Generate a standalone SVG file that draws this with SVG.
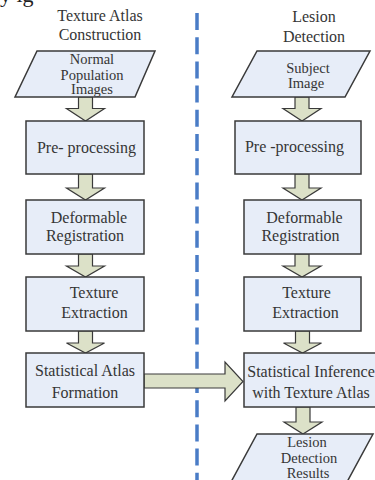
<svg xmlns="http://www.w3.org/2000/svg" width="375" height="480" viewBox="0 0 375 480">
<style>
text{font-family:"Liberation Serif","Times New Roman",serif;font-size:16px;fill:#353535;text-anchor:middle}
.box{fill:#E7EDF8;stroke:#3a3a3a;stroke-width:1.5}
.arr{fill:#DCE1C8;stroke:#3a3a3a;stroke-width:1.2;stroke-linejoin:miter}
.pg{font-size:14.5px}
</style>
<rect width="375" height="480" fill="#ffffff"/>
<text x="0" y="1.5" style="font-size:22px;text-anchor:start;fill:#222">y ig</text>
<line id="divider" x1="197" y1="13" x2="197" y2="480" stroke="#4A7CC6" stroke-width="3.5" stroke-dasharray="17 7.2"/>
<g id="headings">
<text x="100" y="21">Texture Atlas</text>
<text x="100" y="40">Construction</text>
<text x="314" y="22">Lesion</text>
<text x="314" y="42">Detection</text>
</g>
<g id="connectors">
<path class="arr" d="M78.5 97V108.5H66.5L85.5 121L104.5 108.5H92.5V97Z"/>
<path class="arr" d="M78.5 174V188H66.5L85.5 200L104.5 188H92.5V174Z"/>
<path class="arr" d="M78.5 254V266H66.5L85.5 277L104.5 266H92.5V254Z"/>
<path class="arr" d="M78.5 331V343H66.5L85.5 353L104.5 343H92.5V331Z"/>
<path class="arr" d="M295 97V108.5H283L302 121L321 108.5H309V97Z"/>
<path class="arr" d="M295 174V188H283L302 200L321 188H309V174Z"/>
<path class="arr" d="M295 254V266H283L302 277L321 266H309V254Z"/>
<path class="arr" d="M295.5 331V343H283.5L302.5 353L321.5 343H309.5V331Z"/>
<path class="arr" d="M296 407V422H284L303 434L322 422H310V407Z"/>
<path class="arr" d="M144 374H225V362L243 381.5L225 401V388H144Z"/>
</g>
<g id="normal-population-images">
<polygon class="box" points="37,51 155,51 135,97 15,97"/>
<text class="pg" x="92" y="64">Normal</text>
<text class="pg" x="92" y="79.5">Population</text>
<text class="pg" x="92" y="94">Images</text>
</g>
<g id="pre-processing-left">
<rect class="box" x="26" y="121" width="118" height="53"/>
<text x="86.5" y="152.5">Pre- processing</text>
</g>
<g id="deformable-registration-left">
<rect class="box" x="26" y="200" width="118" height="54"/>
<text x="89" y="223">Deformable</text>
<text x="85" y="241">Registration</text>
</g>
<g id="texture-extraction-left">
<rect class="box" x="26" y="277" width="118" height="54"/>
<text x="94" y="298">Texture</text>
<text x="94.5" y="318">Extraction</text>
</g>
<g id="statistical-atlas-formation">
<rect class="box" x="26" y="353" width="118" height="54"/>
<text x="85" y="376">Statistical Atlas</text>
<text x="85" y="398">Formation</text>
</g>
<g id="subject-image">
<polygon class="box" points="257,51 370,51 345,97 232,97"/>
<text class="pg" x="308" y="73">Subject</text>
<text class="pg" x="306" y="87.5">Image</text>
</g>
<g id="pre-processing-right">
<rect class="box" x="235" y="121" width="126" height="53"/>
<text x="294.5" y="152">Pre -processing</text>
</g>
<g id="deformable-registration-right">
<rect class="box" x="244" y="200" width="117" height="54"/>
<text x="304.5" y="223">Deformable</text>
<text x="300.5" y="241">Registration</text>
</g>
<g id="texture-extraction-right">
<rect class="box" x="244" y="277" width="117" height="54"/>
<text x="306.5" y="298">Texture</text>
<text x="305.5" y="318">Extraction</text>
</g>
<g id="statistical-inference">
<rect class="box" x="244" y="353" width="136" height="54"/>
<text x="311" y="377">Statistical Inference</text>
<text x="311" y="398">with Texture Atlas</text>
</g>
<g id="lesion-detection-results">
<polygon class="box" points="257,434 373,434 347,482 231,482"/>
<text class="pg" x="307" y="447">Lesion</text>
<text class="pg" x="309" y="462.5">Detection</text>
<text class="pg" x="308" y="478">Results</text>
</g>
</svg>
